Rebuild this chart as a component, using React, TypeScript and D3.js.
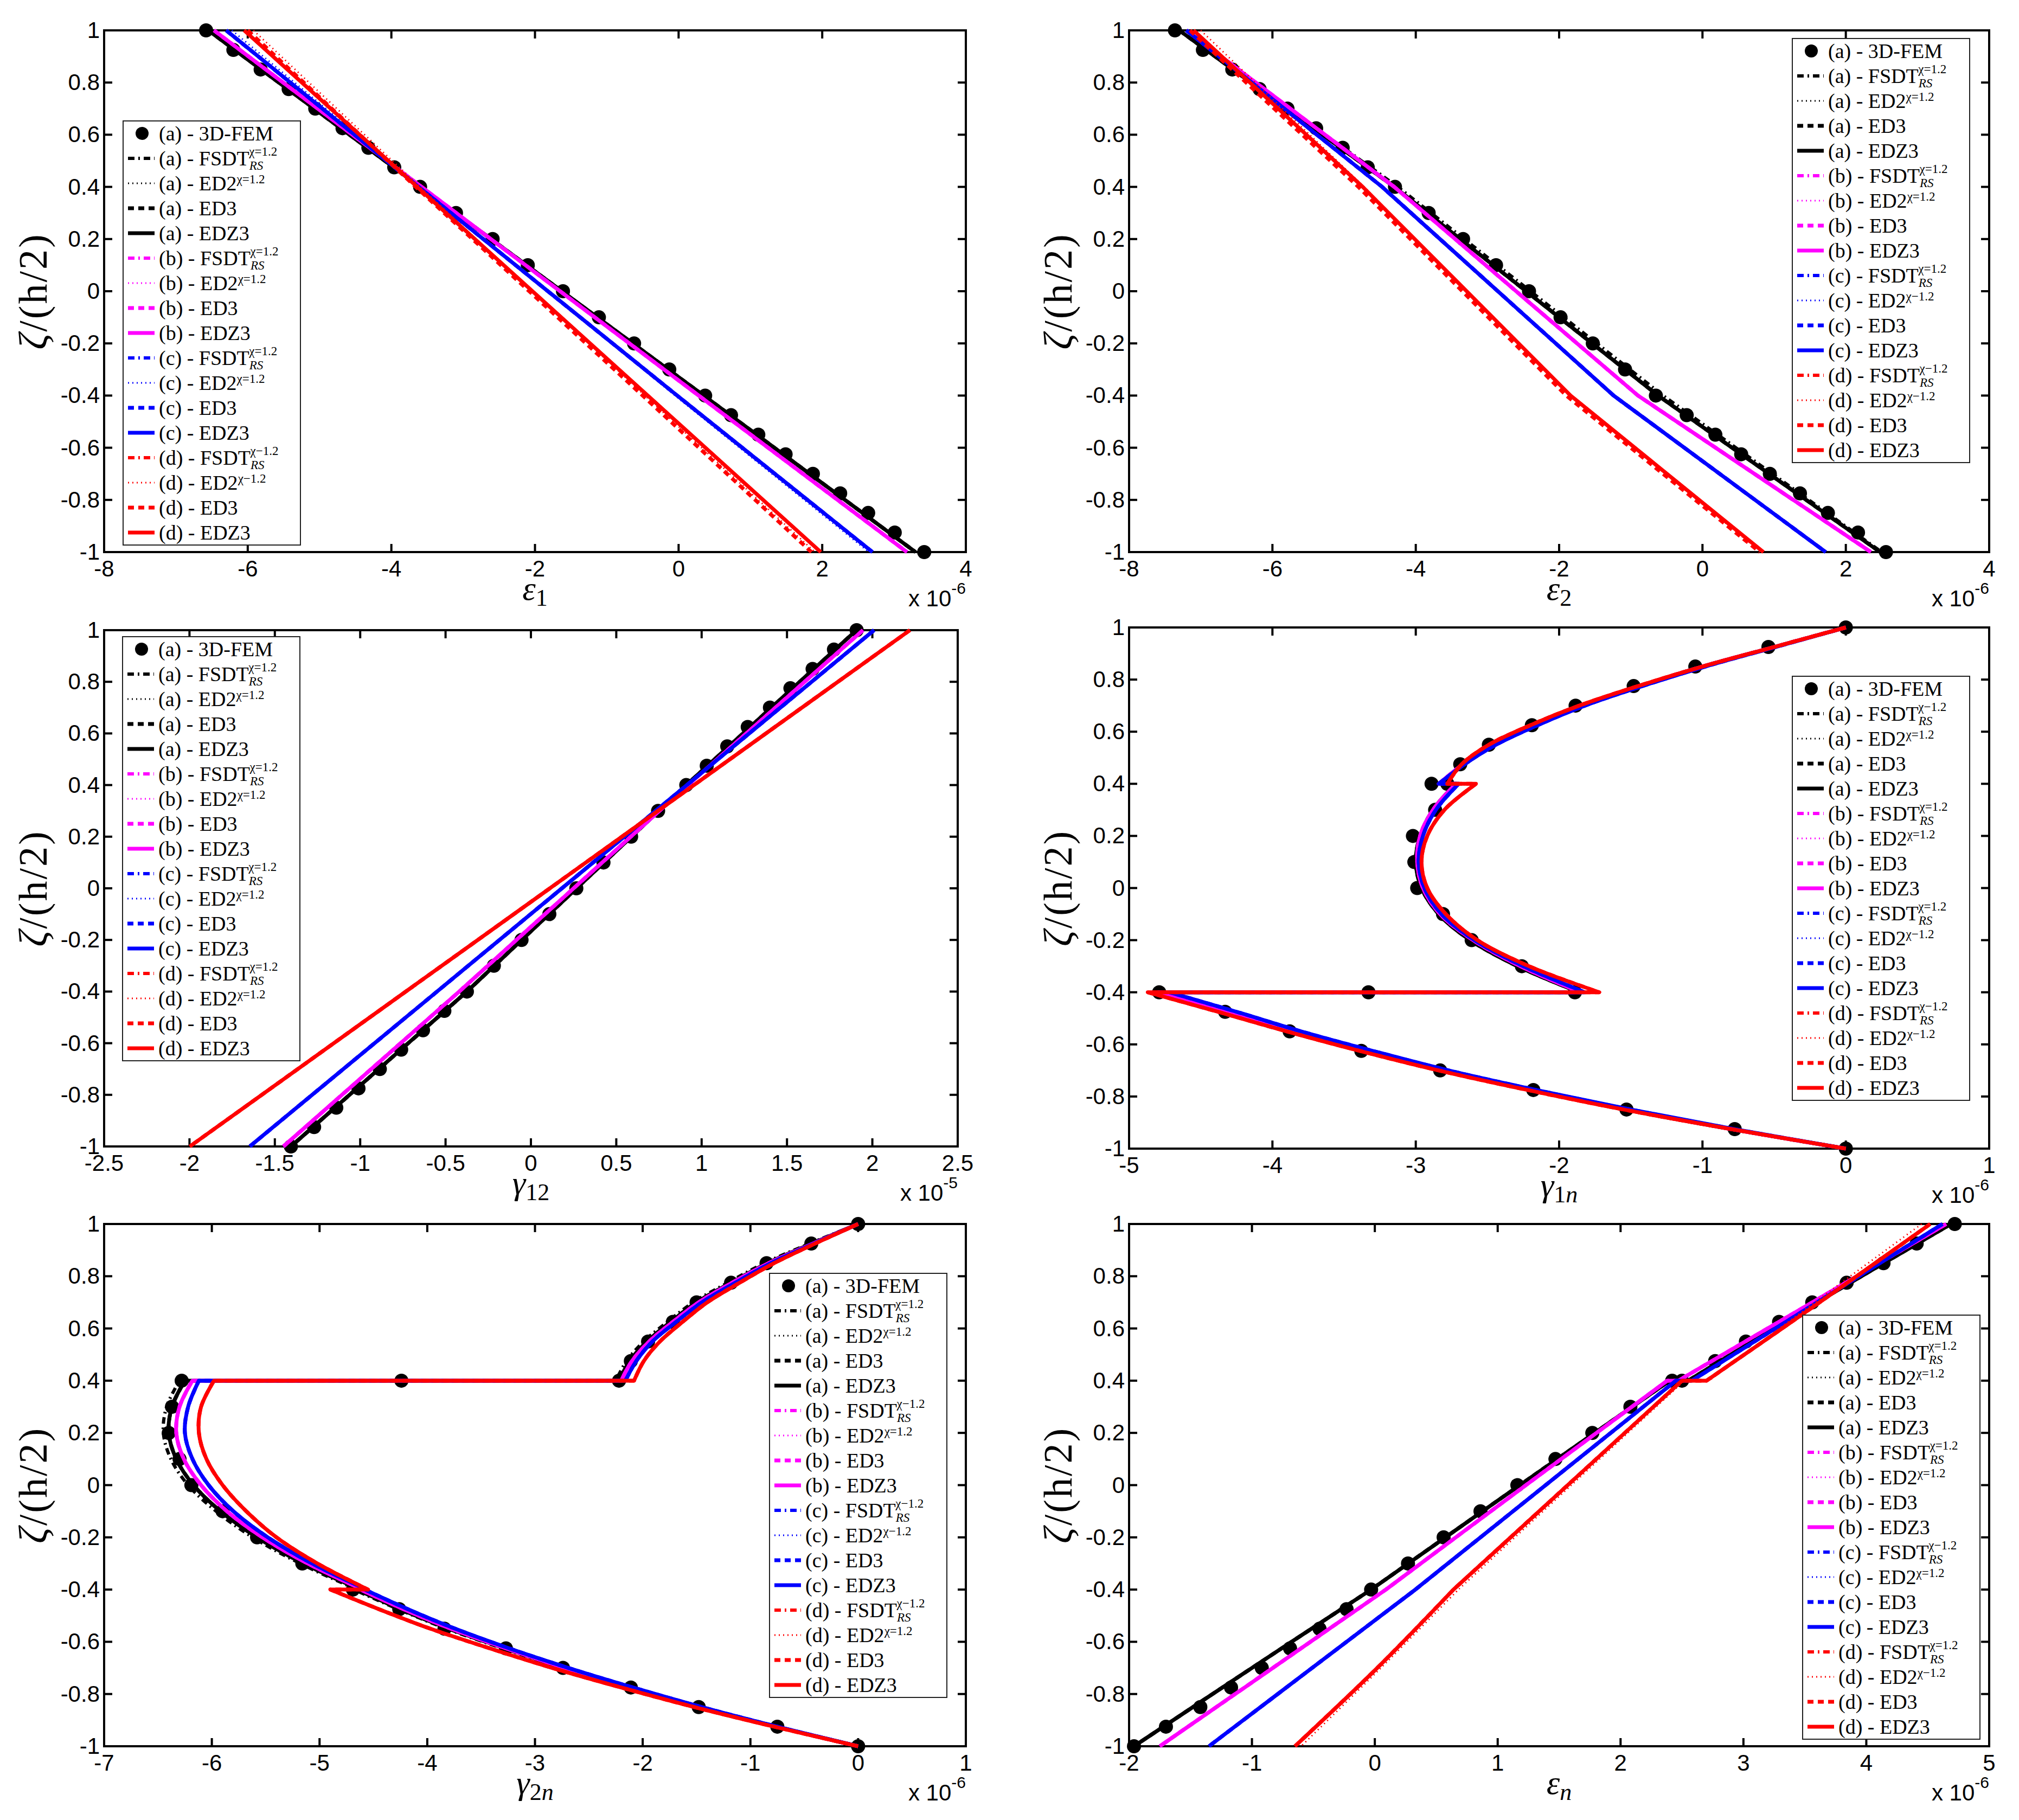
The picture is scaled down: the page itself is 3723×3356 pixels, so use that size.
import * as d3 from "d3";

const W = 3723;
const H = 3356;

// zeta stations (layer interfaces at +-0.4; a repeated value marks a jump between layers)
const zetaLines = [1, 0.4, -0.4, -1];
const zetaFem = [1, 0.925, 0.85, 0.775, 0.7, 0.625, 0.55, 0.475, 0.4, 0.3, 0.2, 0.1, 0, -0.1, -0.2, -0.3, -0.4, -0.475, -0.55, -0.625, -0.7, -0.775, -0.85, -0.925, -1];
const zetaCurve = [1, 0.925, 0.85, 0.775, 0.7, 0.625, 0.55, 0.475, 0.4, 0.4, 0.3, 0.2, 0.1, 0, -0.1, -0.2, -0.3, -0.4, -0.4, -0.475, -0.55, -0.625, -0.7, -0.775, -0.85, -0.925, -1];
const zetaEpsN = [1, 0.7, 0.4, 0.4, 0, -0.4, -0.4, -0.7, -1];

// eps1 (x 1e-6)
const eps1A = [-6.55, -3.6, 0.35, 3.3];
const eps1B = [-6.47, -3.58, 0.28, 3.18];
const eps1C = [-6.3, -3.62, -0.02, 2.7];
const eps1D = [-6.05, -3.64, -0.43, 1.98];
const eps1DEd2 = [-5.92, -3.6, -0.47, 1.9];
const eps1DEd3 = [-6.0, -3.66, -0.5, 1.85];
const eps1CEd2 = [-6.22, -3.6, -0.05, 2.65];
const eps1Fem = [-6.58, -6.2, -5.82, -5.43, -5.06, -4.68, -4.32, -3.96, -3.6, -3.1, -2.59, -2.1, -1.61, -1.11, -0.62, -0.13, 0.37, 0.73, 1.11, 1.49, 1.87, 2.25, 2.64, 3.01, 3.42];

// eps2 (x 1e-6)
const eps2A = [-7.3, -4.3, -0.62, 2.48];
const eps2B = [-7.2, -4.3, -0.9, 2.35];
const eps2C = [-7.2, -4.47, -1.24, 1.72];
const eps2D = [-7.1, -4.74, -1.84, 0.85];
const eps2AFsdt = [-7.3, -4.25, -0.55, 2.5];
const eps2DEd2 = [-7.0, -4.72, -1.86, 0.82];
const eps2DEd3 = [-7.15, -4.8, -1.9, 0.8];
const eps2Fem = [-7.36, -6.97, -6.56, -6.18, -5.79, -5.39, -5.02, -4.67, -4.29, -3.82, -3.34, -2.88, -2.42, -1.98, -1.53, -1.08, -0.65, -0.22, 0.18, 0.54, 0.94, 1.36, 1.75, 2.17, 2.56];

// gamma12 (x 1e-5)
const gam12A = [1.907, 0.91, -0.375, -1.406];
const gam12B = [1.945, 0.92, -0.42, -1.45];
const gam12C = [2.01, 0.913, -0.55, -1.647];
const gam12D = [2.22, 0.955, -0.733, -1.998];
const gam12Fem = [1.908, 1.775, 1.65, 1.52, 1.4, 1.27, 1.15, 1.03, 0.91, 0.745, 0.587, 0.425, 0.266, 0.108, -0.055, -0.217, -0.375, -0.507, -0.632, -0.76, -0.885, -1.01, -1.14, -1.27, -1.406];

// gamma1n (x 1e-6)
const gam1nA = [0, -0.5, -1.0, -1.44, -1.84, -2.16, -2.45, -2.66, -2.83, -2.72, -2.88, -2.97, -3.0, -2.96, -2.84, -2.62, -2.29, -1.86, -4.8, -4.33, -3.86, -3.36, -2.82, -2.2, -1.54, -0.8, 0];
const gam1nB = [0, -0.5, -1.0, -1.44, -1.84, -2.16, -2.45, -2.67, -2.84, -2.72, -2.88, -2.97, -2.99, -2.95, -2.83, -2.6, -2.27, -1.85, -4.8, -4.33, -3.86, -3.35, -2.81, -2.19, -1.53, -0.8, 0];
const gam1nC = [0, -0.49, -0.98, -1.42, -1.82, -2.15, -2.44, -2.66, -2.84, -2.7, -2.86, -2.95, -2.98, -2.94, -2.82, -2.59, -2.25, -1.82, -4.72, -4.25, -3.8, -3.3, -2.77, -2.16, -1.5, -0.78, 0];
const gam1nD = [0, -0.5, -1.0, -1.45, -1.86, -2.2, -2.49, -2.68, -2.78, -2.58, -2.8, -2.92, -2.96, -2.92, -2.79, -2.57, -2.21, -1.72, -4.87, -4.38, -3.9, -3.39, -2.84, -2.22, -1.55, -0.8, 0];
const gam1nFemZeta = [1, 0.925, 0.85, 0.775, 0.7, 0.625, 0.55, 0.475, 0.4, 0.4, 0.3, 0.2, 0.1, 0, -0.1, -0.2, -0.3, -0.4, -0.4, -0.4, -0.475, -0.55, -0.625, -0.7, -0.775, -0.85, -0.925, -1];
const gam1nFem = [0, -0.54, -1.05, -1.48, -1.885, -2.19, -2.49, -2.69, -2.89, -2.78, -2.865, -3.02, -3.01, -2.99, -2.81, -2.61, -2.26, -1.89, -3.33, -4.79, -4.33, -3.88, -3.38, -2.83, -2.18, -1.53, -0.775, 0];

// gamma2n (x 1e-6)
const gam2nA = [0, -0.43, -0.84, -1.18, -1.5, -1.74, -1.96, -2.12, -2.22, -6.25, -6.37, -6.4, -6.33, -6.17, -5.92, -5.58, -5.15, -4.62, -4.65, -4.25, -3.8, -3.28, -2.73, -2.12, -1.47, -0.76, 0];
const gam2nB = [0, -0.42, -0.83, -1.17, -1.48, -1.72, -1.94, -2.1, -2.2, -6.18, -6.3, -6.33, -6.26, -6.1, -5.86, -5.53, -5.11, -4.6, -4.62, -4.22, -3.78, -3.27, -2.72, -2.11, -1.46, -0.76, 0];
const gam2nC = [0, -0.41, -0.81, -1.14, -1.45, -1.69, -1.91, -2.06, -2.16, -6.12, -6.22, -6.25, -6.18, -6.03, -5.8, -5.48, -5.07, -4.56, -4.58, -4.18, -3.74, -3.24, -2.69, -2.09, -1.45, -0.75, 0];
const gam2nD = [0, -0.4, -0.78, -1.1, -1.4, -1.63, -1.84, -1.99, -2.08, -5.98, -6.1, -6.12, -6.05, -5.9, -5.68, -5.4, -5.02, -4.55, -4.9, -4.45, -3.97, -3.42, -2.84, -2.2, -1.52, -0.78, 0];
const gam2nAFsdt = [0, -0.45, -0.87, -1.21, -1.53, -1.77, -1.99, -2.15, -2.25, -6.3, -6.42, -6.45, -6.38, -6.22, -5.96, -5.62, -5.18, -4.65, -4.68, -4.27, -3.82, -3.3, -2.75, -2.13, -1.48, -0.77, 0];
const gam2nFemZeta = [1, 0.925, 0.85, 0.775, 0.7, 0.625, 0.55, 0.475, 0.4, 0.4, 0.4, 0.3, 0.2, 0.1, 0, -0.1, -0.2, -0.3, -0.4, -0.475, -0.55, -0.625, -0.7, -0.775, -0.85, -0.925, -1];
const gam2nFem = [0, -0.435, -0.85, -1.18, -1.5, -1.72, -1.95, -2.11, -2.22, -4.24, -6.28, -6.37, -6.4, -6.3, -6.19, -5.9, -5.58, -5.16, -4.69, -4.26, -3.84, -3.27, -2.74, -2.11, -1.48, -0.75, 0];

// epsn (x 1e-6)
const epsNA = [4.69, 3.6, 2.55, 2.4, 1.18, -0.03, -0.03, -1.0, -1.96];
const epsNB = [4.65, 3.56, 2.47, 2.38, 1.23, 0.09, 0.09, -0.83, -1.75];
const epsNC = [4.62, 3.6, 2.58, 2.45, 1.39, 0.33, 0.33, -0.51, -1.35];
const epsND = [4.52, 3.62, 2.7, 2.5, 1.57, 0.64, 0.64, 0.02, -0.65];
const epsNDEd2 = [4.45, 3.58, 2.72, 2.52, 1.6, 0.68, 0.68, 0.05, -0.6];
const epsNFemZeta = [1, 0.925, 0.85, 0.775, 0.7, 0.625, 0.55, 0.475, 0.4, 0.4, 0.3, 0.2, 0.1, 0, -0.1, -0.2, -0.3, -0.4, -0.475, -0.55, -0.625, -0.7, -0.775, -0.85, -0.925, -1];
const epsNFem = [4.72, 4.41, 4.14, 3.84, 3.56, 3.29, 3.02, 2.77, 2.5, 2.42, 2.08, 1.77, 1.47, 1.16, 0.86, 0.56, 0.27, -0.03, -0.23, -0.45, -0.69, -0.92, -1.17, -1.42, -1.7, -1.96];

// legend superscript sign per case: [FSDT, ED2]
const supEps1 = ["=", "=", "=", "=", "=", "=", "\u2212", "\u2212"];
const supEps2 = ["=", "=", "=", "=", "=", "\u2212", "\u2212", "\u2212"];
const supGam12 = ["=", "=", "=", "=", "=", "=", "=", "="];
const supGam1n = ["\u2212", "=", "=", "=", "=", "\u2212", "\u2212", "\u2212"];
const supGam2n = ["=", "=", "\u2212", "=", "\u2212", "\u2212", "\u2212", "="];
const supEpsN = ["=", "=", "=", "=", "\u2212", "=", "=", "\u2212"];

const caseNames = ["a", "b", "c", "d"];
const caseColors = ["#000000", "#ff00ff", "#0000ff", "#ff0000"];
const theories = ["FSDT", "ED2", "ED3", "EDZ3"];

const lineStyle: Record<string, { w: number; dash: string | null }> = {
  FSDT: { w: 6, dash: "12,7,3,7" },
  ED2: { w: 3, dash: "2,6" },
  ED3: { w: 7, dash: "11,8" },
  EDZ3: { w: 7, dash: null },
};

interface PanelDef {
  box: [number, number, number, number];
  xDomain: [number, number];
  xStep: number;
  exp: string;
  label: string;
  sub: [string, boolean][];
  zeta: number[];
  smooth: boolean;
  curves: number[][];
  variants: Record<string, number[]>;
  femZeta: number[];
  femX: number[];
  legend: [number, number];
  sup: string[];
}

const panels: PanelDef[] = [
  {
    box: [192, 56, 1781, 1018], xDomain: [-8, 4], xStep: 2, exp: "-6",
    label: "\u03b5", sub: [["1", false]], zeta: zetaLines, smooth: false,
    curves: [eps1A, eps1B, eps1C, eps1D],
    variants: { "d-ED2": eps1DEd2, "d-ED3": eps1DEd3, "c-ED2": eps1CEd2 },
    femZeta: zetaFem, femX: eps1Fem, legend: [227, 223], sup: supEps1,
  },
  {
    box: [2082, 56, 3668, 1018], xDomain: [-8, 4], xStep: 2, exp: "-6",
    label: "\u03b5", sub: [["2", false]], zeta: zetaLines, smooth: false,
    curves: [eps2A, eps2B, eps2C, eps2D],
    variants: { "a-FSDT": eps2AFsdt, "d-ED2": eps2DEd2, "d-ED3": eps2DEd3 },
    femZeta: zetaFem, femX: eps2Fem, legend: [3305, 71], sup: supEps2,
  },
  {
    box: [192, 1162, 1766, 2114], xDomain: [-2.5, 2.5], xStep: 0.5, exp: "-5",
    label: "\u03b3", sub: [["12", false]], zeta: zetaLines, smooth: false,
    curves: [gam12A, gam12B, gam12C, gam12D], variants: {},
    femZeta: zetaFem, femX: gam12Fem, legend: [226, 1174], sup: supGam12,
  },
  {
    box: [2082, 1157, 3668, 2118], xDomain: [-5, 1], xStep: 1, exp: "-6",
    label: "\u03b3", sub: [["1", false], ["n", true]], zeta: zetaCurve, smooth: true,
    curves: [gam1nA, gam1nB, gam1nC, gam1nD], variants: {},
    femZeta: gam1nFemZeta, femX: gam1nFem, legend: [3305, 1247], sup: supGam1n,
  },
  {
    box: [192, 2257, 1781, 3220], xDomain: [-7, 1], xStep: 1, exp: "-6",
    label: "\u03b3", sub: [["2", false], ["n", true]], zeta: zetaCurve, smooth: true,
    curves: [gam2nA, gam2nB, gam2nC, gam2nD], variants: { "a-FSDT": gam2nAFsdt },
    femZeta: gam2nFemZeta, femX: gam2nFem, legend: [1419, 2348], sup: supGam2n,
  },
  {
    box: [2082, 2257, 3668, 3220], xDomain: [-2, 5], xStep: 1, exp: "-6",
    label: "\u03b5", sub: [["n", true]], zeta: zetaEpsN, smooth: true,
    curves: [epsNA, epsNB, epsNC, epsND], variants: { "d-ED2": epsNDEd2 },
    femZeta: epsNFemZeta, femX: epsNFem, legend: [3324, 2425], sup: supEpsN,
  },
];

const SANS = "'Liberation Sans', Arial, sans-serif";
const SERIF = "'Liberation Serif', 'Times New Roman', serif";
const TICK = 15;
const ROW = 46;

function fmt(v: number) {
  const r = Math.round(v * 100) / 100;
  return r === 0 ? "0" : String(r);
}

function LegendLabel({ c, t, sup, x, y }: { c: string; t: string; sup: string; x: number; y: number }) {
  if (t === "FEM") {
    return <text x={x} y={y} fontSize={38} fontFamily={SERIF}>({c}) - 3D-FEM</text>;
  }
  if (t === "FSDT") {
    return (
      <text x={x} y={y} fontSize={38} fontFamily={SERIF}>
        ({c}) - FSDT
        <tspan fontSize={23} fontStyle="italic" dy={8}>RS</tspan>
        <tspan fontSize={23} dx={-26} dy={-26}>{`\u03c7${sup}1.2`}</tspan>
      </text>
    );
  }
  if (t === "ED2") {
    return (
      <text x={x} y={y} fontSize={38} fontFamily={SERIF}>
        ({c}) - ED2
        <tspan fontSize={23} dy={-13}>{`\u03c7${sup}1.2`}</tspan>
      </text>
    );
  }
  return <text x={x} y={y} fontSize={38} fontFamily={SERIF}>({c}) - {t}</text>;
}

function Panel({ p }: { p: PanelDef }) {
  const [L, T, R, B] = p.box;
  const x = d3.scaleLinear().domain(p.xDomain).range([L, R]);
  const y = d3.scaleLinear().domain([-1, 1]).range([B, T]);
  const xTicks = d3.range(p.xDomain[0], p.xDomain[1] + p.xStep / 2, p.xStep);
  const yTicks = d3.range(-1, 1.05, 0.2);
  const segLine = d3
    .line<[number, number]>()
    .x((d) => x(d[0]))
    .y((d) => y(d[1]))
    .curve(p.smooth ? d3.curveCatmullRom.alpha(0.5) : d3.curveLinear);

  // one path per profile; each layer drawn as its own curve, joined straight at the interfaces
  const profilePath = (xs: number[]) => {
    const segs: [number, number][][] = [[]];
    xs.forEach((v, i) => {
      if (i > 0 && p.zeta[i] === p.zeta[i - 1]) segs.push([]);
      segs[segs.length - 1].push([v, p.zeta[i]]);
    });
    return segs
      .map((s, k) => {
        const d = segLine(s) ?? "";
        return k === 0 ? d : "L" + d.slice(1);
      })
      .join("");
  };

  const [lx, ly] = p.legend;
  const rows: { c: number; t: string; sup: string }[] = [{ c: 0, t: "FEM", sup: "" }];
  caseNames.forEach((_n, ci) =>
    theories.forEach((t, ti) => rows.push({ c: ci, t, sup: ti < 2 ? p.sup[ci * 2 + ti] : "" }))
  );

  return (
    <g>
      {/* ticks, inward on all four sides */}
      {xTicks.map((t) => (
        <g key={`xt${t}`} stroke="#000" strokeWidth={4}>
          <line x1={x(t)} x2={x(t)} y1={B} y2={B - TICK} />
          <line x1={x(t)} x2={x(t)} y1={T} y2={T + TICK} />
        </g>
      ))}
      {yTicks.map((t) => (
        <g key={`yt${t}`} stroke="#000" strokeWidth={4}>
          <line x1={L} x2={L + TICK} y1={y(t)} y2={y(t)} />
          <line x1={R} x2={R - TICK} y1={y(t)} y2={y(t)} />
        </g>
      ))}
      <rect x={L} y={T} width={R - L} height={B - T} fill="none" stroke="#000" strokeWidth={4} />
      {xTicks.map((t) => (
        <text key={`xl${t}`} x={x(t)} y={B + 45} textAnchor="middle" fontSize={42} fontFamily={SANS}>
          {fmt(t)}
        </text>
      ))}
      {yTicks.map((t) => (
        <text key={`yl${t}`} x={L - 8} y={y(t) + 14} textAnchor="end" fontSize={42} fontFamily={SANS}>
          {fmt(t)}
        </text>
      ))}
      <text x={R} y={B + 100} textAnchor="end" fontSize={42} fontFamily={SANS}>
        x 10<tspan fontSize={30} dy={-23}>{p.exp}</tspan>
      </text>
      {/* axis labels */}
      <text x={(L + R) / 2} y={B + 88} textAnchor="middle" fontSize={62} fontFamily={SERIF} fontStyle="italic">
        {p.label}
        {p.sub.map(([s, it], i) => (
          <tspan key={i} fontSize={44} fontStyle={it ? "italic" : "normal"} dy={i === 0 ? 11 : 0}>
            {s}
          </tspan>
        ))}
      </text>
      <text
        transform={`translate(${L - 106},${(T + B) / 2}) rotate(-90)`}
        textAnchor="middle"
        fontSize={74}
        fontFamily={SERIF}
        letterSpacing={3}
      >
        <tspan fontStyle="italic">{"\u03b6"}</tspan>/(h/2)
      </text>

      {/* 3D-FEM reference points */}
      {p.femX.map((v, i) => (
        <circle key={`f${i}`} cx={x(v)} cy={y(p.femZeta[i])} r={13} fill="#000" />
      ))}

      {/* model curves */}
      {p.curves.map((xs, ci) =>
        theories.map((t) => {
          const data = p.variants[`${caseNames[ci]}-${t}`] ?? xs;
          const st = lineStyle[t];
          return (
            <path
              key={`${ci}${t}`}
              d={profilePath(data)}
              fill="none"
              stroke={caseColors[ci]}
              strokeWidth={st.w}
              strokeDasharray={st.dash ?? undefined}
              strokeLinejoin="round"
            />
          );
        })
      )}

      {/* legend */}
      <rect x={lx} y={ly} width={327} height={ROW * 17} fill="#fff" stroke="#222" strokeWidth={2} />
      {rows.map((r, i) => {
        const cy = ly + 23 + ROW * i;
        const st = lineStyle[r.t];
        return (
          <g key={`lg${i}`}>
            {r.t === "FEM" ? (
              <circle cx={lx + 35} cy={cy} r={12} fill="#000" />
            ) : (
              <line
                x1={lx + 9}
                x2={lx + 58}
                y1={cy}
                y2={cy}
                stroke={caseColors[r.c]}
                strokeWidth={st.w}
                strokeDasharray={st.dash ?? undefined}
              />
            )}
            <LegendLabel c={caseNames[r.c]} t={r.t} sup={r.sup} x={lx + 66} y={cy + 13} />
          </g>
        );
      })}
    </g>
  );
}

export default function App() {
  return (
    <svg
      width={W}
      height={H}
      viewBox={`0 0 ${W} ${H}`}
      style={{ position: "absolute", left: 0, top: 0, background: "#fff" }}
    >
      <rect width={W} height={H} fill="#fff" />
      {panels.map((p, i) => (
        <Panel key={i} p={p} />
      ))}
    </svg>
  );
}
